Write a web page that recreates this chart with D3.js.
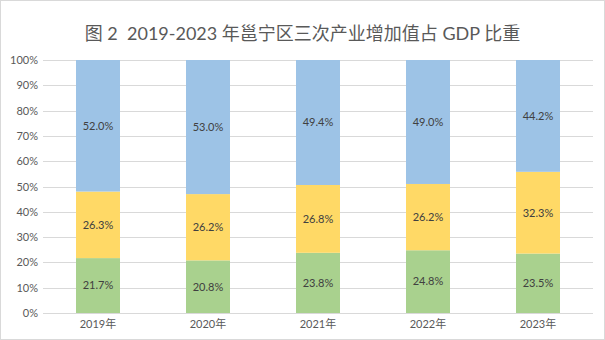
<!DOCTYPE html>
<html>
<head>
<meta charset="utf-8">
<script src="https://cdn.jsdelivr.net/npm/d3@7"></script>
<style>
  html, body { margin: 0; padding: 0; background: #fff; }
  svg { display: block; }
  text { font-family: Lato, "Noto Sans CJK SC", sans-serif; }
</style>
</head>
<body>
<svg id="chart" width="605" height="340"></svg>
<script>
// 邕宁区三次产业增加值占 GDP 比重（%）
const years = ["2019年", "2020年", "2021年", "2022年", "2023年"];
const primary   = [21.7, 20.8, 23.8, 24.8, 23.5];
const secondary = [26.3, 26.2, 26.8, 26.2, 32.3];
const tertiary  = [52.0, 53.0, 49.4, 49.0, 44.2];
const yTicks = [0, 10, 20, 30, 40, 50, 60, 70, 80, 90, 100];
const title = "图 2  2019-2023 年邕宁区三次产业增加值占 GDP 比重";

const seriesKeys = ["primary", "secondary", "tertiary"];
const colors = { primary: "#a9d18e", secondary: "#ffd966", tertiary: "#9dc3e6" };

const rows = years.map((y, i) => ({
  year: y, primary: primary[i], secondary: secondary[i], tertiary: tertiary[i]
}));

const svg = d3.select("#chart");
const W = 605, H = 340;
const m = { left: 43, right: 12, top: 60, bottom: 27 };

// outer chart border
svg.append("rect")
  .attr("x", 0.5).attr("y", 0.5)
  .attr("width", W - 1).attr("height", H - 1)
  .attr("fill", "#fff").attr("stroke", "#d9d9d9");

svg.append("text")
  .attr("x", W / 2).attr("y", 40)
  .attr("text-anchor", "middle")
  .attr("font-size", 18)
  .attr("fill", "#595959")
  .style("white-space", "pre")
  .text(title);

const x = d3.scaleBand().domain(years).range([m.left, W - m.right]).paddingInner(0.6).paddingOuter(0.3);
const y = d3.scaleLinear().domain([0, 100]).range([H - m.bottom, m.top]);

// gridlines
svg.append("g")
  .selectAll("line").data(yTicks).join("line")
  .attr("x1", m.left).attr("x2", W - m.right)
  .attr("y1", d => Math.round(y(d)) + 0.5).attr("y2", d => Math.round(y(d)) + 0.5)
  .attr("stroke", "#d9d9d9").attr("stroke-width", 1);

// y axis labels
const yAxis = d3.axisLeft(y).tickValues(yTicks).tickFormat(d => d + "%").tickSize(0).tickPadding(5);
const gy = svg.append("g").attr("transform", `translate(${m.left},0)`).call(yAxis);
gy.select(".domain").remove();
gy.selectAll("text").attr("font-size", 11).attr("fill", "#595959")
  .style("font-family", "Lato, sans-serif");

// x axis labels
const xAxis = d3.axisBottom(x).tickSize(0).tickPadding(7);
const gx = svg.append("g").attr("transform", `translate(0,${H - m.bottom})`).call(xAxis);
gx.select(".domain").remove();
gx.selectAll("text").attr("font-size", 11).attr("fill", "#595959");

// stacked bars
const stacked = d3.stack().keys(seriesKeys)(rows);
const layers = svg.append("g").selectAll("g").data(stacked).join("g")
  .attr("fill", d => colors[d.key]);

layers.selectAll("rect").data(d => d).join("rect")
  .attr("x", d => x(d.data.year))
  .attr("width", x.bandwidth())
  .attr("y", d => y(d[1]))
  .attr("height", d => y(d[0]) - y(d[1]));

// value labels
layers.selectAll("text").data(d => d.map(v => ({ v, key: d.key }))).join("text")
  .attr("x", d => x(d.v.data.year) + x.bandwidth() / 2)
  .attr("y", d => (y(d.v[0]) + y(d.v[1])) / 2)
  .attr("dy", "0.35em")
  .attr("text-anchor", "middle")
  .attr("font-size", 11)
  .attr("fill", "#404040")
  .text(d => d.v.data[d.key].toFixed(1) + "%");
</script>
</body>
</html>
